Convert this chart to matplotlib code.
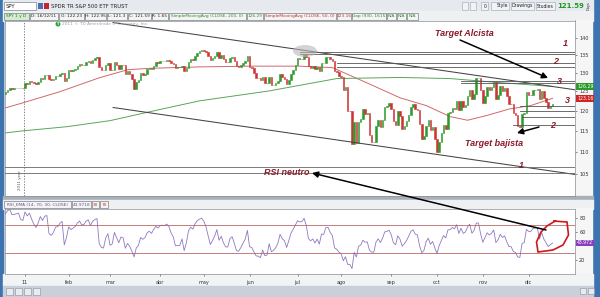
import numpy as np
import matplotlib
matplotlib.use("Agg")
import matplotlib.pyplot as plt
from matplotlib.patches import Rectangle, Ellipse, Polygon

W, H = 600, 297

# ---------------------------------------------------------------------------
# SPY daily closes, 16/12/2010 .. 16/12/2011
# ---------------------------------------------------------------------------
close_dec10 = [124.29, 124.39, 124.71, 125.46, 125.88, 125.68, 125.75, 125.85, 125.98, 125.79, 125.76]
close_jan = [127.19, 127.02, 127.66, 127.39, 127.15, 126.98, 127.45, 128.60, 128.38, 129.32,
             129.50, 128.19, 128.03, 128.34, 129.08, 129.12, 129.66, 129.95, 127.63, 128.61]
close_feb = [130.76, 130.40, 130.71, 131.09, 131.91, 132.46, 132.09, 132.19, 132.92, 133.23,
             132.80, 133.63, 134.04, 134.30, 131.54, 130.74, 130.61, 131.99, 132.72]
close_mar = [130.63, 130.84, 133.10, 132.12, 131.01, 132.18, 132.00, 129.51, 130.43, 129.64,
             128.19, 125.69, 127.37, 127.92, 129.84, 129.38, 129.75, 130.97, 131.38, 131.02,
             131.94, 132.83, 132.58]
close_apr = [133.24, 133.29, 133.26, 133.55, 133.35, 132.82, 132.45, 131.42, 131.44, 131.45,
             131.97, 130.51, 131.26, 133.04, 133.74, 133.53, 134.72, 135.57, 136.05, 136.36]
close_may = [136.12, 135.66, 134.73, 133.51, 134.02, 134.63, 135.72, 134.21, 134.87, 133.78,
             132.95, 132.90, 134.07, 134.36, 133.33, 131.74, 131.63, 132.05, 132.57, 133.11, 134.52]
close_jun = [131.46, 131.29, 130.02, 128.62, 128.49, 127.96, 128.90, 127.10, 127.18, 128.79,
             126.54, 126.76, 127.15, 127.84, 129.55, 128.71, 128.35, 126.85, 128.01, 129.67,
             130.74, 132.06]
close_jul = [133.97, 133.79, 133.92, 135.32, 134.38, 131.95, 131.36, 131.77, 130.89, 131.61,
             130.54, 132.67, 132.58, 134.38, 134.50, 133.74, 133.19, 130.49, 130.07, 129.23]
close_aug = [128.69, 125.41, 126.03, 120.01, 119.94, 111.95, 117.25, 112.08, 117.26, 117.88,
             120.45, 119.28, 119.39, 114.07, 112.35, 112.38, 116.24, 117.76, 115.93, 117.68,
             121.01, 121.29, 121.89]
close_sep = [120.44, 117.40, 116.52, 119.86, 118.59, 115.42, 116.23, 117.29, 118.87, 120.91,
             121.60, 120.41, 120.21, 116.68, 112.96, 113.64, 116.30, 117.54, 115.11, 116.04, 113.14]
close_oct = [109.92, 112.40, 114.40, 116.50, 115.55, 119.49, 119.55, 120.73, 120.37, 122.46,
             120.09, 122.54, 120.99, 121.54, 123.83, 125.42, 122.91, 124.20, 128.46, 128.51, 125.33]
close_nov = [121.83, 123.79, 126.12, 125.32, 126.11, 127.59, 122.91, 123.97, 126.39, 125.18,
             125.78, 123.69, 121.61, 121.57, 119.30, 118.80, 116.18, 115.87, 119.26, 119.52, 124.70]
close_dec = [124.08, 124.05, 125.33, 125.47, 125.72, 123.06, 125.14, 123.27, 122.19, 120.80,
             121.20, 121.59]

months = [close_dec10, close_jan, close_feb, close_mar, close_apr, close_may, close_jun,
          close_jul, close_aug, close_sep, close_oct, close_nov, close_dec]
month_labels = [None, "11", "feb", "mar", "abr", "may", "jun", "jul", "ago", "sep", "oct", "nov", "dic"]

# moving averages (trading-day index, price)
sma200_idx = [-9, -1, 19, 39, 57, 80, 112, 143, 172, 195, 218, 242]
sma200_val = [114.5, 115.0, 116.0, 117.5, 119.7, 122.5, 125.1, 128.4, 128.7, 128.4, 127.3, 126.29]
sma50_idx = [-9, -1, 16, 34, 47, 57, 80, 103, 126, 141, 157, 172, 184, 195, 203, 212, 222, 232, 242]
sma50_val = [120.7, 122.0, 124.9, 128.6, 130.8, 131.2, 131.6, 131.8, 131.8, 131.4, 127.2,
             123.3, 121.3, 118.5, 117.6, 118.8, 120.4, 121.3, 123.16]

# drawings: trend channel and target levels
channel_up = [(40.4, 144.5), (252.3, 125.4)]
channel_dn = [(40.4, 120.8), (252.3, 104.9)]
levels_full = [106.6, 105.2]
levels_top = [(126, 135.9), (126, 135.3), (143, 132.6), (143, 131.6), (200, 127.7), (200, 127.2)]
levels_low = [(227, 121.1), (227, 119.9), (228, 118.5), (224, 116.4)]

price_ticks = [105, 110, 115, 120, 125, 130, 135, 140]
rsi_ticks = [20, 60, 80]

closes = np.concatenate([np.array(m, dtype=float) for m in months])
idx = np.arange(len(closes)) - len(close_dec10)
opens = np.r_[closes[0], closes[:-1]]
month_start = np.cumsum([0] + [len(m) for m in months[:-1]]) - len(close_dec10)

# RSI_EMA(14)
chg = np.diff(closes, prepend=closes[0])
alpha = 2.0 / 15
net = chg[1:15].mean()
tot = np.abs(chg[1:15]).mean()
rsi = []
for c in chg:
    net += alpha * (c - net)
    tot += alpha * (abs(c) - tot)
    rsi.append(50 * (net / tot + 1))
rsi = np.array(rsi)

DARKRED = "#8b1c2c"
GREEN = "#2f9a2f"
RED = "#cc3333"


def rect(x0, y0, x1, y1):
    return [x0 / W, 1 - y1 / H, (x1 - x0) / W, (y1 - y0) / H]


fig = plt.figure(figsize=(6, 2.97), dpi=100)
fig.patch.set_facecolor("#d5dce5")

bg = fig.add_axes([0, 0, 1, 1], zorder=0)
bg.set_xlim(0, W); bg.set_ylim(H, 0); bg.axis("off")

# window border and bars
bg.add_patch(Rectangle((0, 0), 3, H, color="#3d74b0"))
bg.add_patch(Rectangle((593, 0), 7, H, color="#3d74b0"))
bg.add_patch(Rectangle((3, 0), 590, 11, color="#e6eaef"))
bg.add_patch(Rectangle((3, 11), 590, 9.5, color="#eef0f2"))
bg.add_patch(Rectangle((575, 20), 17, 177, color="#f6f6f6"))
bg.add_patch(Rectangle((3, 196), 590, 4, color="#a9b0b8"))
bg.add_patch(Rectangle((3, 200), 590, 8.5, color="#eef0f2"))
bg.add_patch(Rectangle((575, 208), 17, 67, color="#f6f6f6"))
bg.add_patch(Rectangle((3, 274), 590, 12, color="#f2f3f5"))
bg.add_patch(Rectangle((3, 286), 590, 11, color="#c9d0d9"))
for bx in [6, 15, 24, 33]:
    bg.add_patch(Rectangle((bx, 288), 7, 7, facecolor="#e8ebef", edgecolor="#8a9099", lw=0.4))
for bx in [580, 588]:
    bg.add_patch(Rectangle((bx, 288), 6, 6, facecolor="#e8ebef", edgecolor="#8a9099", lw=0.4))

# toolbar
bg.add_patch(Rectangle((4, 2), 32, 7.5, facecolor="white", edgecolor="#7a8696", lw=0.5))
bg.text(6, 6, "SPY", fontsize=3.8, va="center", ha="left", color="#222")
bg.add_patch(Rectangle((38, 2.5), 5, 6.5, facecolor="#4b6fb0", edgecolor="none"))
bg.add_patch(Rectangle((44, 2.5), 5, 6.5, facecolor="#c0282d", edgecolor="none"))
bg.text(51, 6, "SPDR TR S&P 500 ETF TRUST", fontsize=3.8, va="center", ha="left", color="#222")
for tx0, tx1, label in [(462, 468, ""), (470, 476, ""), (481, 488, "0"), (491, 509, "Style"),
                        (511, 534, "Drawings"), (536, 555, "Studies")]:
    bg.add_patch(Rectangle((tx0, 2), tx1 - tx0, 7.5, facecolor="#f1f3f6", edgecolor="#9aa3ad", lw=0.4))
    bg.text(tx1 - 1, 6, label, fontsize=3.3, va="center", ha="right", color="#222")
bg.text(584, 6, f"{closes[-1]:.2f}", fontsize=5.0, va="center", ha="right",
        color="#1c9a1c", fontweight="bold")
bg.text(587, 6, "Days", fontsize=2.5, va="center", ha="left", color="#222", rotation=90)

# study header row
header_cells = [
    ("SPY 1 y D", 4, 29, "#1a7a1a", "#d6ecd2"),
    ("D: 16/12/11", 30, 58, "#222", "#f4f4f4"),
    ("O: 122.23", 59, 84, "#222", "#f4f4f4"),
    ("H: 122.95", 85, 106, "#222", "#f4f4f4"),
    ("L: 121.3", 107, 127, "#222", "#f4f4f4"),
    ("C: 121.59", 128, 151, "#222", "#f4f4f4"),
    ("R: 1.65", 152, 168, "#222", "#f4f4f4"),
    ("SimpleMovingAvg (CLOSE, 200, 0)", 169, 246, "#2a8a2a", "#f4f4f4"),
    ("126.29", 247, 263, "#2a8a2a", "#f4f4f4"),
    ("SimpleMovingAvg (CLOSE, 50, 0)", 264, 336, "#c03030", "#f4f4f4"),
    ("123.16", 337, 351, "#c03030", "#f4f4f4"),
    ("Gap (930, 1615)", 352, 386, "#2a8a2a", "#f4f4f4"),
    ("N/A", 387, 396, "#2a8a2a", "#f4f4f4"),
    ("N/A", 397, 406, "#2a8a2a", "#f4f4f4"),
    ("N/A", 407, 418, "#2a8a2a", "#f4f4f4"),
]
for label, x0, x1, tc, fc in header_cells:
    bg.add_patch(Rectangle((x0, 12.5), x1 - x0, 7, facecolor=fc, edgecolor="#6d747c", lw=0.45))
    bg.text((x0 + x1) / 2, 16.2, label, fontsize=3.1, va="center", ha="center", color=tc)

rsi_cells = [
    ("RSI_EMA (14, 70, 30, CLOSE)", 4, 71, "#6b4f96"),
    (f"{rsi[-1]:.4f}", 72, 91, "#6b4f96"),
    ("30", 92, 99, "#c03030"),
    ("70", 100, 108, "#c03030"),
]
for label, x0, x1, tc in rsi_cells:
    bg.add_patch(Rectangle((x0, 201), x1 - x0, 7, facecolor="#f4f4f4", edgecolor="#6d747c", lw=0.45))
    bg.text((x0 + x1) / 2, 204.7, label, fontsize=3.1, va="center", ha="center", color=tc)

# ---------------------------------------------------------------------------
# price panel
# ---------------------------------------------------------------------------
ax = fig.add_axes(rect(5, 20.5, 575, 196), zorder=1)
ax.set_yscale("log")
ax.set_xlim(-9.2, 252.3)
ax.set_ylim(100.24, 145.12)

up = closes >= opens
lo = np.minimum(opens, closes)
hi = np.maximum(opens, closes)
cols = np.where(up, GREEN, RED)
ax.bar(idx, hi - lo, bottom=lo, width=0.7, color=cols, edgecolor=cols, linewidth=0.4, zorder=3)

ax.plot(sma50_idx, sma50_val, color="#d2686a", lw=0.7, zorder=2)
ax.plot(sma200_idx, sma200_val, color="#5aa55a", lw=0.7, zorder=2)

for (x0, y0), (x1, y1) in [channel_up, channel_dn]:
    ax.plot([x0, x1], [y0, y1], color="#444", lw=0.75, zorder=4)
for lv in levels_full:
    ax.plot([-10, 253], [lv, lv], color="#666", lw=0.6, zorder=4)
for x0, lv in levels_top + levels_low:
    ax.plot([x0, 253], [lv, lv], color="#555", lw=0.6, zorder=4)

ax.axvline(-0.5, color="#555", lw=0.5, ls=(0, (2, 2)), zorder=1)
ax.text(-2.2, 101.5, "2011 year", rotation=90, fontsize=2.8, color="#555", ha="center", va="bottom")

ax.yaxis.tick_right()
ax.yaxis.set_major_locator(matplotlib.ticker.FixedLocator(price_ticks))
ax.yaxis.set_minor_locator(matplotlib.ticker.NullLocator())
ax.yaxis.set_major_formatter(matplotlib.ticker.FixedFormatter([str(t) for t in price_ticks]))
ax.tick_params(axis="y", labelsize=3.6, length=1.5, width=0.4, pad=1.5, colors="#333")
ax.set_xticks([])
for s in ax.spines.values():
    s.set_color("#8a8f96"); s.set_linewidth(0.5)

# price markers on the axis
for val, fc in [(sma200_val[-1], "#2e9a2e"), (sma50_val[-1], "#d02525")]:
    ax.annotate(f"{val:.2f}", xy=(1.0, val), xycoords=("axes fraction", "data"),
                xytext=(1.5, 0), textcoords="offset points", fontsize=3.3, color="white",
                va="center", ha="left", annotation_clip=False,
                bbox=dict(boxstyle="square,pad=0.15", fc=fc, ec="none"))

# ---------------------------------------------------------------------------
# RSI panel
# ---------------------------------------------------------------------------
ar = fig.add_axes(rect(5, 208.5, 575, 274), zorder=1)
ar.set_xlim(-9.2, 252.3)
ar.set_ylim(0, 92.9)
ar.plot(idx, rsi, color="#9078c0", lw=0.6)
ar.axhline(70, color="#b45a5a", lw=0.55)
ar.axhline(30, color="#b45a5a", lw=0.55)
ar.yaxis.tick_right()
ar.set_yticks(rsi_ticks)
ar.tick_params(axis="y", labelsize=3.6, length=1.5, width=0.4, pad=1.5, colors="#333")
ticks = [m for m, lab in zip(month_start, month_labels) if lab]
ar.set_xticks(ticks)
ar.set_xticklabels([lab for lab in month_labels if lab])
ar.tick_params(axis="x", labelsize=3.6, length=1.5, width=0.4, pad=3, colors="#333")
for s in ar.spines.values():
    s.set_color("#8a8f96"); s.set_linewidth(0.5)
ar.annotate(f"{rsi[-1]:.3f}", xy=(1.0, rsi[-1]), xycoords=("axes fraction", "data"),
            xytext=(1.5, 0), textcoords="offset points", fontsize=3.3, color="white",
            va="center", ha="left", annotation_clip=False,
            bbox=dict(boxstyle="square,pad=0.15", fc="#8a3fc0", ec="none"))

# ---------------------------------------------------------------------------
# hand drawn annotations (pixel overlay)
# ---------------------------------------------------------------------------
ov = fig.add_axes([0, 0, 1, 1], zorder=5)
ov.set_xlim(0, W); ov.set_ylim(H, 0); ov.axis("off"); ov.patch.set_alpha(0)

ov.add_patch(Ellipse((305, 51), 24, 12, facecolor="#b8b8b8", edgecolor="none", alpha=0.6))
ov.add_patch(Ellipse((58, 24), 5, 5, facecolor="#27a844", edgecolor="none"))
ov.text(58, 24.2, "T", fontsize=2.6, color="white", ha="center", va="center", fontweight="bold")
ov.text(62, 24, "2011 \u00a9 TD Ameritrade IP Company, Inc.", fontsize=3.1, color="#a0a0a0",
        ha="left", va="center")

txt = dict(color=DARKRED, fontsize=6.5, fontweight="bold", fontstyle="italic",
           family="Liberation Sans", ha="left", va="center")
ov.text(435, 33, "Target Alcista", **txt)
ov.text(465, 144, "Target bajista", **txt)
ov.text(264, 172.5, "RSI neutro", **txt)
for x, y, s in [(563, 43, "1"), (553, 62, "2"), (557, 81.5, "3"), (565, 100.5, "3"),
                (550, 125, "2"), (519, 166, "1")]:
    ov.text(x, y, s, **txt)

arrow = dict(arrowstyle="-|>,head_length=0.35,head_width=0.18", color="black", lw=1.1,
             shrinkA=0, shrinkB=0)
ov.annotate("", xy=(548, 78), xytext=(460, 40), arrowprops=arrow)
ov.annotate("", xy=(517, 133), xytext=(539, 127), arrowprops=arrow)
ov.annotate("", xy=(312, 173), xytext=(546, 230), arrowprops=arrow)

loop = [(553, 221), (567, 222), (568.5, 235), (563, 245), (553, 250), (538, 252),
        (536.5, 242), (541, 232), (547, 226), (556, 220.5)]
ov.add_patch(Polygon(loop, closed=False, fill=False, edgecolor="#d01818", lw=1.2))

fig.savefig("out.png", dpi=100)
